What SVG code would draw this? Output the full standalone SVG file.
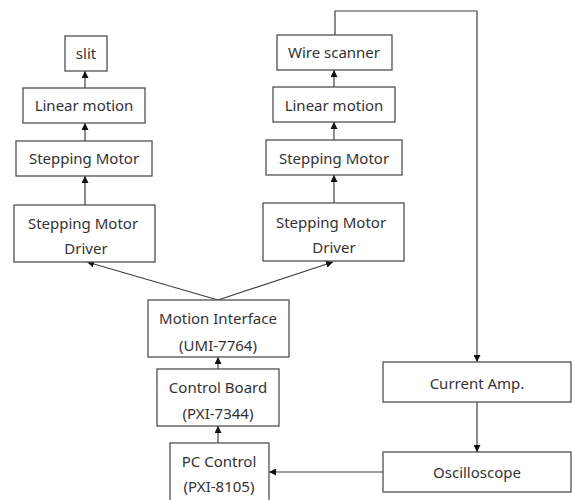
<svg xmlns="http://www.w3.org/2000/svg" width="572" height="500" viewBox="0 0 572 500">
<defs>
<style>
.box{fill:#fff;stroke:#505050;stroke-width:1.3}
.t{font-family:"Noto Sans","Open Sans","DejaVu Sans",sans-serif;font-size:15px;fill:#333;text-anchor:middle}
.c{fill:none;stroke:#404040;stroke-width:1.2}
</style>
<marker id="ah" viewBox="0 0 10 10" refX="10" refY="5" markerWidth="7" markerHeight="7" markerUnits="userSpaceOnUse" orient="auto">
<path d="M0,0 L10,5 L0,10 z" fill="#111"/>
</marker>
</defs>
<rect width="572" height="500" fill="#fff"/>
<g id="connectors">
<line class="c" x1="85" y1="88" x2="85" y2="71" marker-end="url(#ah)"/>
<line class="c" x1="85" y1="141" x2="85" y2="123" marker-end="url(#ah)"/>
<line class="c" x1="85" y1="205" x2="85" y2="176" marker-end="url(#ah)"/>
<line class="c" x1="334" y1="87" x2="334" y2="70" marker-end="url(#ah)"/>
<line class="c" x1="334" y1="140" x2="334" y2="122" marker-end="url(#ah)"/>
<line class="c" x1="334" y1="203" x2="334" y2="175" marker-end="url(#ah)"/>
<line class="c" x1="218" y1="300" x2="87" y2="262" marker-end="url(#ah)"/>
<line class="c" x1="218" y1="300" x2="333" y2="262" marker-end="url(#ah)"/>
<line class="c" x1="218" y1="369" x2="218" y2="357" marker-end="url(#ah)"/>
<line class="c" x1="218" y1="443" x2="218" y2="426" marker-end="url(#ah)"/>
<polyline class="c" points="335,35 335,11 477,11 477,362" marker-end="url(#ah)"/>
<line class="c" x1="477" y1="402" x2="477" y2="452" marker-end="url(#ah)"/>
<line class="c" x1="383" y1="472" x2="269" y2="472" marker-end="url(#ah)"/>
</g>
<g id="slit"><rect class="box" x="65" y="36" width="42" height="35"/><text class="t" x="86" y="59">slit</text></g>
<g id="linear1"><rect class="box" x="23" y="88" width="122" height="35"/><text class="t" x="84" y="111">Linear motion</text></g>
<g id="motor1"><rect class="box" x="16" y="141" width="136" height="35"/><text class="t" x="84" y="164">Stepping Motor</text></g>
<g id="driver1"><rect class="box" x="14" y="205" width="141" height="57"/><text class="t" x="83" y="229">Stepping Motor</text><text class="t" x="86" y="254">Driver</text></g>
<g id="wire"><rect class="box" x="277" y="35" width="115" height="35"/><text class="t" x="334" y="58">Wire scanner</text></g>
<g id="linear2"><rect class="box" x="273" y="87" width="122" height="35"/><text class="t" x="334" y="111">Linear motion</text></g>
<g id="motor2"><rect class="box" x="266" y="140" width="136" height="35"/><text class="t" x="334" y="164">Stepping Motor</text></g>
<g id="driver2"><rect class="box" x="263" y="203" width="141" height="58"/><text class="t" x="331" y="228">Stepping Motor</text><text class="t" x="334" y="253">Driver</text></g>
<g id="motion"><rect class="box" x="148" y="300" width="141" height="57"/><text class="t" x="218" y="324">Motion Interface</text><text class="t" x="218" y="351">(UMI-7764)</text></g>
<g id="control"><rect class="box" x="157" y="369" width="122" height="57"/><text class="t" x="218" y="393">Control Board</text><text class="t" x="218" y="419">(PXI-7344)</text></g>
<g id="pc"><rect class="box" x="170" y="443" width="99" height="60"/><text class="t" x="219" y="467">PC Control</text><text class="t" x="219" y="492">(PXI-8105)</text></g>
<g id="amp"><rect class="box" x="383" y="362" width="188" height="40"/><text class="t" x="477" y="389">Current Amp.</text></g>
<g id="osc"><rect class="box" x="383" y="452" width="188" height="40"/><text class="t" x="477" y="478">Oscilloscope</text></g>
</svg>
